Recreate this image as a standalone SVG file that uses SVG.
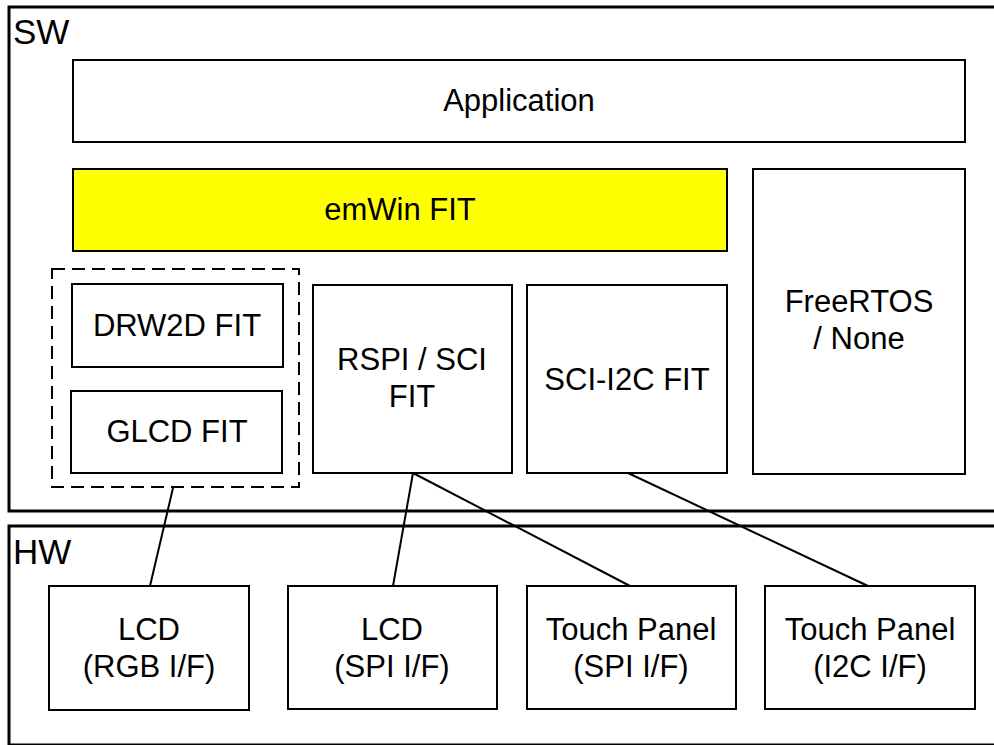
<svg xmlns="http://www.w3.org/2000/svg" width="994" height="745" viewBox="0 0 994 745">
<style>
.layer{fill:#fff;stroke:#000;stroke-width:3}
.box{fill:#fff;stroke:#000;stroke-width:2}
.hl{fill:#ffff00;stroke:#000;stroke-width:2}
.dash{fill:none;stroke:#000;stroke-width:2;stroke-dasharray:13 7}
.lbl{font-family:"Liberation Sans",Arial,sans-serif;font-size:35px;fill:#000}
.t{font-family:"Liberation Sans",Arial,sans-serif;font-size:31px;fill:#000;text-anchor:middle}
.conn line{stroke:#000;stroke-width:2}
</style>
<rect width="994" height="745" fill="#fff"/>
<g id="sw">
<rect class="layer" x="9" y="7" width="1000" height="504"/>
<text class="lbl" x="13" y="44">SW</text>
</g>
<g id="hw">
<rect class="layer" x="9" y="526" width="1000" height="219"/>
<text class="lbl" x="13" y="564">HW</text>
</g>
<g id="application">
<rect class="box" x="73" y="60" width="892" height="82"/>
<text class="t" x="519" y="111">Application</text>
</g>
<g id="emwin">
<rect class="hl" x="73" y="169" width="654" height="82"/>
<text class="t" x="400" y="220">emWin FIT</text>
</g>
<g id="freertos">
<rect class="box" x="753" y="169" width="212" height="305"/>
<text class="t" x="859" y="312">FreeRTOS</text>
<text class="t" x="859" y="349">/ None</text>
</g>
<g id="graphics-group">
<rect class="dash" x="52" y="269" width="247" height="218"/>
</g>
<g id="drw2d">
<rect class="box" x="72" y="284" width="211" height="83"/>
<text class="t" x="177" y="336">DRW2D FIT</text>
</g>
<g id="glcd">
<rect class="box" x="71" y="391" width="211" height="82"/>
<text class="t" x="177" y="442">GLCD FIT</text>
</g>
<g id="rspi">
<rect class="box" x="313" y="285" width="199" height="188"/>
<text class="t" x="412" y="370">RSPI / SCI</text>
<text class="t" x="412" y="407">FIT</text>
</g>
<g id="scii2c">
<rect class="box" x="527" y="285" width="200" height="188"/>
<text class="t" x="627" y="390">SCI-I2C FIT</text>
</g>
<g id="lcd-rgb">
<rect class="box" x="49" y="586" width="200" height="124"/>
<text class="t" x="149" y="640">LCD</text>
<text class="t" x="149" y="677">(RGB I/F)</text>
</g>
<g id="lcd-spi">
<rect class="box" x="288" y="586" width="209" height="123"/>
<text class="t" x="392" y="640">LCD</text>
<text class="t" x="392" y="677">(SPI I/F)</text>
</g>
<g id="touch-spi">
<rect class="box" x="527" y="586" width="209" height="123"/>
<text class="t" x="631" y="640">Touch Panel</text>
<text class="t" x="631" y="677">(SPI I/F)</text>
</g>
<g id="touch-i2c">
<rect class="box" x="765" y="586" width="210" height="123"/>
<text class="t" x="870" y="640">Touch Panel</text>
<text class="t" x="870" y="677">(I2C I/F)</text>
</g>
<g id="connectors" class="conn">
<line x1="173" y1="488" x2="150" y2="586"/>
<line x1="413" y1="473" x2="393" y2="586"/>
<line x1="413" y1="473" x2="630" y2="586"/>
<line x1="628" y1="473" x2="868" y2="586"/>
</g>
</svg>
